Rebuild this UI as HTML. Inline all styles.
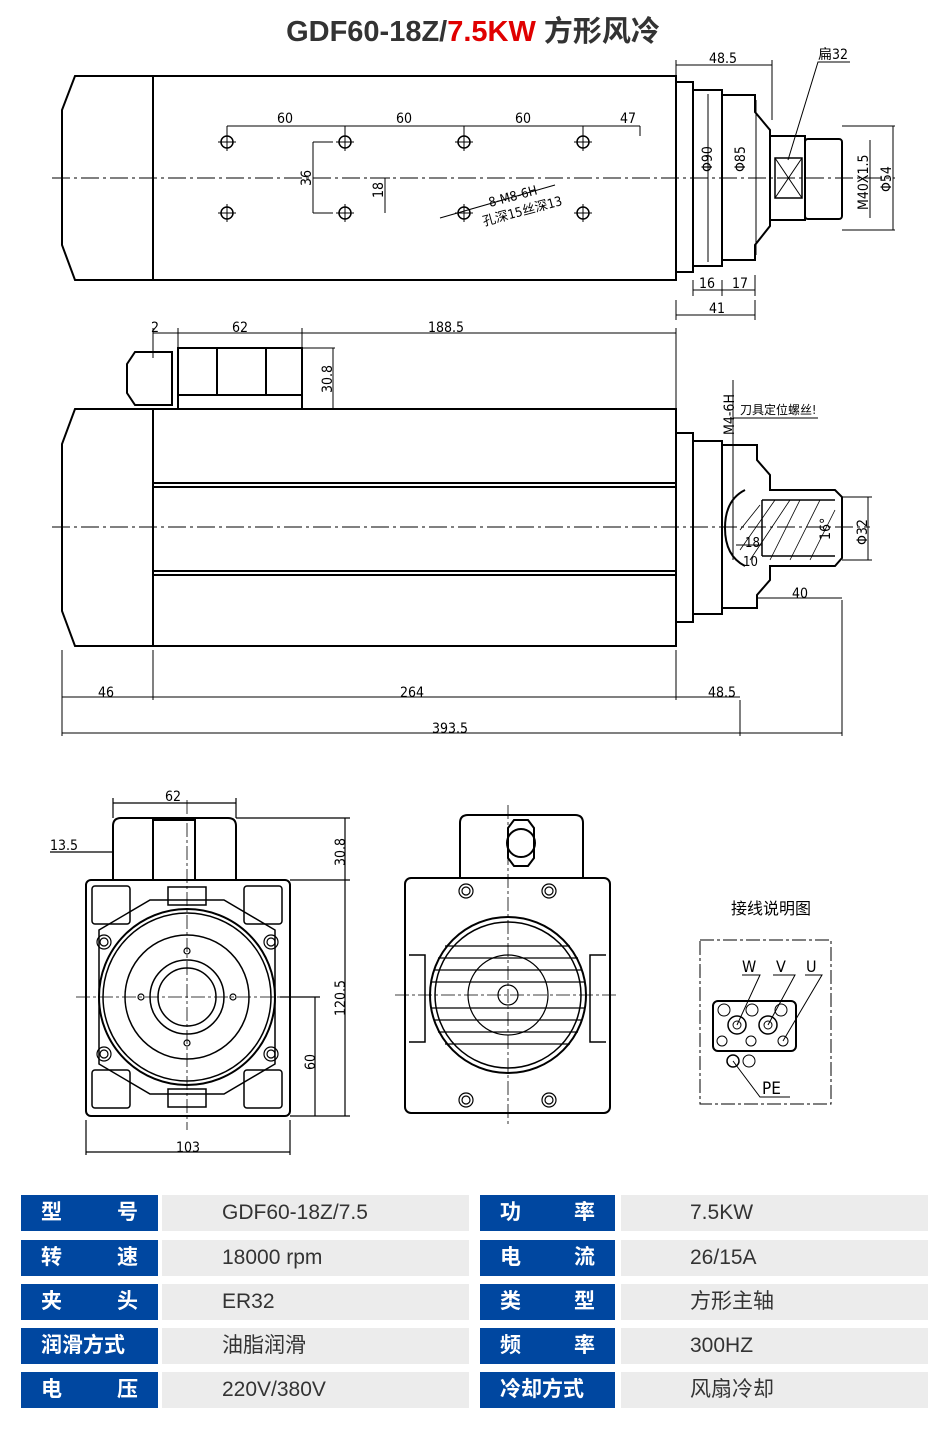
<!DOCTYPE html>
<html><head><meta charset="utf-8">
<style>
html,body{margin:0;padding:0;background:#fff;}
body{width:946px;height:1440px;position:relative;overflow:hidden;font-family:"Liberation Sans","Noto Sans CJK SC",sans-serif;}
svg{position:absolute;left:0;top:0;}
.t{position:absolute;height:36px;line-height:36px;font-size:21px;}
.h{background:#0047a0;color:#fff;font-weight:bold;width:137px;box-sizing:border-box;padding:0 20px;display:flex;justify-content:space-between;}
.v{background:#ececec;color:#333;font-size:21px;}
</style></head><body>
<svg width="946" height="1440" viewBox="0 0 946 1440" font-family="Liberation Sans, Noto Sans CJK SC, sans-serif">
<text x="473" y="41" text-anchor="middle" font-size="29" font-weight="bold" fill="#333">GDF60-18Z/<tspan fill="#e00000">7.5KW</tspan> 方形风冷</text>
<g fill="none" stroke="#000" stroke-width="2">
<path d="M75 76H676V280H75L62 245V110Z"/>
<line x1="153" y1="76" x2="153" y2="280"/>
<rect x="676" y="82" width="17" height="190"/>
<rect x="693" y="90" width="29" height="176"/>
<path d="M722 95H755V112L770 130V226L755 245V260H722Z"/>
<rect x="770" y="136" width="35" height="84"/>
<rect x="805" y="139" width="37" height="80" rx="3"/>
<rect x="775" y="158" width="27" height="40" stroke-width="1.5"/>
<path d="M775 158L802 198M802 158L775 198" stroke-width="1"/>
</g>
<g fill="none" stroke="#000" stroke-width="1">
<line x1="52" y1="178" x2="895" y2="178" stroke-dasharray="18 4 3 4"/>
<g stroke-width="1.5">
<circle cx="227" cy="142" r="6"/><circle cx="345" cy="142" r="6"/><circle cx="464" cy="142" r="6"/><circle cx="583" cy="142" r="6"/>
<circle cx="227" cy="213" r="6"/><circle cx="345" cy="213" r="6"/><circle cx="464" cy="213" r="6"/><circle cx="583" cy="213" r="6"/>
</g>
<path d="M218 142h18M227 133v18M336 142h18M345 133v18M455 142h18M464 133v18M574 142h18M583 133v18M218 213h18M227 204v18M336 213h18M345 204v18M455 213h18M464 204v18M574 213h18M583 204v18"/>
<path d="M227 126H640M227 126v10M345 126v10M464 126v10M583 126v10M640 126v10"/>
<path d="M313 142v71M313 142h20M313 213h20M385 178v35M370 178h20"/>
<path d="M440 218L555 185"/>
<path d="M676 65H772M676 60v20M772 60v60M693 290H755M693 280v16M722 280v16M755 275v21M676 315H755M676 300v20M755 300v20"/>
<path d="M708 94v168M756 100v155M870 140v78M893 126v104M842 126H895M842 230H895"/>
<path d="M788 160L818 62H850"/>
<path d="M153 333H676M153 328v30M178 328v20M302 328v20M676 328v80M302 348H335M302 409H335M333 348v61"/>
</g>
<g fill="none" stroke="#000" stroke-width="2">
<path d="M75 409H676V646H75L62 611V444Z"/>
<line x1="153" y1="409" x2="153" y2="646"/>
<line x1="153" y1="483" x2="676" y2="483"/><line x1="153" y1="487" x2="676" y2="487"/>
<line x1="153" y1="571" x2="676" y2="571"/><line x1="153" y1="575" x2="676" y2="575"/>
<rect x="178" y="348" width="124" height="61"/>
<line x1="217" y1="348" x2="217" y2="395"/><line x1="266" y1="348" x2="266" y2="395"/>
<line x1="178" y1="395" x2="302" y2="395"/>
<path d="M135 352H172V405H135L127 393V364Z"/>
<line x1="172" y1="352" x2="172" y2="405"/>
<rect x="676" y="433" width="17" height="189"/>
<rect x="693" y="441" width="29" height="173"/>
<path d="M722 445H757V460L770 475V490H835L842 497V558L835 566H770V580L757 595V608H722Z"/>
<path d="M762 500H835M762 556H835M762 500V556" stroke-width="1.5"/>
<path d="M745 490Q725 500 725 528Q725 556 745 566"/>
</g>
<g fill="none" stroke="#000" stroke-width="1">
<line x1="52" y1="527" x2="870" y2="527" stroke-dasharray="18 4 3 4"/>
<path d="M733 380V560M733 418H818M62 650V736M153 650V700M676 650V700M740 700V736M842 600V736M62 697H740M62 733H842M757 598H842M868 497V560M842 497H872M842 560H872M736 545H762"/>
<path d="M740 530L760 505M740 550L775 500M750 560L790 500M770 560L800 500M790 560L820 500M810 560L835 510" stroke-width="0.8"/>
</g>
<g fill="none" stroke="#000" stroke-width="2">
<rect x="86" y="880" width="204" height="236" rx="5"/>
<path d="M113 880V826Q113 818 121 818H228Q236 818 236 826V880"/>
<rect x="153" y="820" width="42" height="60"/>
<circle cx="187" cy="997" r="88"/>
<circle cx="187" cy="997" r="84" stroke-width="1.5"/>
<path d="M99 930L150 900H224L275 930V1064L224 1094H150L99 1064Z" stroke-width="1.5"/>
<circle cx="187" cy="997" r="62" stroke-width="1.5"/>
<circle cx="187" cy="997" r="37" stroke-width="1.5"/>
<circle cx="187" cy="997" r="29" stroke-width="1.5"/>
<rect x="168" y="887" width="38" height="18" stroke-width="1.5"/>
<rect x="168" y="1089" width="38" height="18" stroke-width="1.5"/>
<rect x="92" y="886" width="38" height="38" rx="3" stroke-width="1.5"/>
<rect x="244" y="886" width="38" height="38" rx="3" stroke-width="1.5"/>
<rect x="92" y="1070" width="38" height="38" rx="3" stroke-width="1.5"/>
<rect x="244" y="1070" width="38" height="38" rx="3" stroke-width="1.5"/>
<rect x="405" y="878" width="205" height="235" rx="6"/>
<path d="M460 878V823Q460 815 468 815H575Q583 815 583 823V878"/>
<path d="M508 828L514 820H528L534 828V858L528 866H514L508 858Z"/>
<circle cx="521" cy="843" r="14"/>
<circle cx="508" cy="995" r="78"/>
<circle cx="508" cy="995" r="73" stroke-width="1.5"/>
<path d="M409 955H425V1042H409M606 955H590V1042H606" stroke-width="1.5"/>
</g>
<g fill="none" stroke="#000" stroke-width="1.2">
<circle cx="104" cy="942" r="7"/><circle cx="104" cy="942" r="4"/>
<circle cx="271" cy="942" r="7"/><circle cx="271" cy="942" r="4"/>
<circle cx="104" cy="1054" r="7"/><circle cx="104" cy="1054" r="4"/>
<circle cx="271" cy="1054" r="7"/><circle cx="271" cy="1054" r="4"/>
<circle cx="187" cy="951" r="3"/><circle cx="187" cy="1043" r="3"/><circle cx="141" cy="997" r="3"/><circle cx="233" cy="997" r="3"/>
<circle cx="466" cy="891" r="7"/><circle cx="466" cy="891" r="4"/>
<circle cx="549" cy="891" r="7"/><circle cx="549" cy="891" r="4"/>
<circle cx="466" cy="1100" r="7"/><circle cx="466" cy="1100" r="4"/>
<circle cx="549" cy="1100" r="7"/><circle cx="549" cy="1100" r="4"/>
<circle cx="508" cy="995" r="40"/>
<circle cx="508" cy="995" r="10"/>
<path d="M445 946H570M438 958H578M434 970H582M432 982H584M432 1008H584M434 1020H582M438 1032H578M445 1044H570"/>
<path d="M76 997H300M187 800V1130M395 995H618M508 805V1125" stroke-dasharray="14 3 3 3" stroke-width="0.8"/>
<path d="M113 803H236M113 798v20M236 798v20M345 818V1116M290 880H350M236 818H350M290 1116H350M315 997V1116M280 997H320M86 1120V1155M290 1120V1155M86 1152H290M50 852H113"/>
</g>
<g fill="none" stroke="#000" stroke-width="1">
<rect x="700" y="940" width="131" height="164" stroke-dasharray="14 3 3 3"/>
<rect x="713" y="1001" width="83" height="50" rx="5" stroke-width="2"/>
<circle cx="724" cy="1010" r="6"/><circle cx="752" cy="1010" r="6"/><circle cx="781" cy="1010" r="6"/>
<circle cx="737" cy="1025" r="9" stroke-width="1.5"/><circle cx="737" cy="1025" r="4"/>
<circle cx="768" cy="1025" r="9" stroke-width="1.5"/><circle cx="768" cy="1025" r="4"/>
<circle cx="722" cy="1041" r="5"/><circle cx="751" cy="1041" r="5"/><circle cx="783" cy="1041" r="5"/>
<path d="M742 975H760L737 1025M773 975H795L768 1025M805 975H822L783 1041"/>
<circle cx="733" cy="1061" r="6" stroke-width="1.5"/><circle cx="749" cy="1061" r="6"/>
<path d="M733 1061L760 1097H790"/>
</g>
<g font-size="14" fill="#000" font-family="DejaVu Sans Condensed, Liberation Sans, sans-serif">
<text x="277" y="123">60</text><text x="396" y="123">60</text><text x="515" y="123">60</text><text x="620" y="123">47</text>
<text x="709" y="63">48.5</text><text x="818" y="59">扁32</text>
<text transform="translate(311,186) rotate(-90)">36</text>
<text transform="translate(383,198) rotate(-90)">18</text>
<text transform="translate(490,207) rotate(-15)" font-size="13">8-M8-6H</text>
<text transform="translate(484,226) rotate(-15)" font-size="13">孔深15丝深13</text>
<text transform="translate(712,172) rotate(-90)">Φ90</text>
<text transform="translate(745,172) rotate(-90)">Φ85</text>
<text transform="translate(868,210) rotate(-90)">M40X1.5</text>
<text transform="translate(891,192) rotate(-90)">Φ54</text>
<text x="699" y="288">16</text><text x="732" y="288">17</text><text x="709" y="313">41</text>
<text x="151" y="332">2</text><text x="232" y="332">62</text><text x="428" y="332">188.5</text>
<text transform="translate(332,393) rotate(-90)">30.8</text>
<text transform="translate(734,435) rotate(-90)">M4-6H</text>
<text x="740" y="414" font-size="12">刀具定位螺丝!</text>
<text transform="translate(830,540) rotate(-90)">16°</text>
<text transform="translate(867,545) rotate(-90)">Φ32</text>
<text x="745" y="547" font-size="13">18</text><text x="743" y="566" font-size="13">10</text>
<text x="792" y="598">40</text>
<text x="98" y="697">46</text><text x="400" y="697">264</text><text x="708" y="697">48.5</text><text x="432" y="733">393.5</text>
<text x="165" y="801">62</text><text x="50" y="850">13.5</text>
<text transform="translate(345,866) rotate(-90)">30.8</text>
<text transform="translate(345,1016) rotate(-90)">120.5</text>
<text transform="translate(315,1070) rotate(-90)">60</text>
<text x="176" y="1152">103</text>
<text x="731" y="914" font-size="16">接线说明图</text>
<text x="742" y="972" font-size="16">W</text><text x="776" y="972" font-size="16">V</text><text x="806" y="972" font-size="16">U</text>
<text x="762" y="1094" font-size="17">PE</text>
</g>
</svg>
<div class="t h" style="left:21px;top:1195px"><span>型</span><span>号</span></div>
<div class="t v" style="left:162px;top:1195px;width:307px;padding-left:60px;box-sizing:border-box">GDF60-18Z/7.5</div>
<div class="t h" style="left:480px;top:1195px;width:135px"><span>功</span><span>率</span></div>
<div class="t v" style="left:621px;top:1195px;width:307px;padding-left:69px;box-sizing:border-box">7.5KW</div>
<div class="t h" style="left:21px;top:1240px"><span>转</span><span>速</span></div>
<div class="t v" style="left:162px;top:1240px;width:307px;padding-left:60px;box-sizing:border-box">18000 rpm</div>
<div class="t h" style="left:480px;top:1240px;width:135px"><span>电</span><span>流</span></div>
<div class="t v" style="left:621px;top:1240px;width:307px;padding-left:69px;box-sizing:border-box">26/15A</div>
<div class="t h" style="left:21px;top:1284px"><span>夹</span><span>头</span></div>
<div class="t v" style="left:162px;top:1284px;width:307px;padding-left:60px;box-sizing:border-box">ER32</div>
<div class="t h" style="left:480px;top:1284px;width:135px"><span>类</span><span>型</span></div>
<div class="t v" style="left:621px;top:1284px;width:307px;padding-left:69px;box-sizing:border-box">方形主轴</div>
<div class="t h" style="left:21px;top:1328px"><span>润滑方式</span></div>
<div class="t v" style="left:162px;top:1328px;width:307px;padding-left:60px;box-sizing:border-box">油脂润滑</div>
<div class="t h" style="left:480px;top:1328px;width:135px"><span>频</span><span>率</span></div>
<div class="t v" style="left:621px;top:1328px;width:307px;padding-left:69px;box-sizing:border-box">300HZ</div>
<div class="t h" style="left:21px;top:1372px"><span>电</span><span>压</span></div>
<div class="t v" style="left:162px;top:1372px;width:307px;padding-left:60px;box-sizing:border-box">220V/380V</div>
<div class="t h" style="left:480px;top:1372px;width:135px"><span>冷却方式</span></div>
<div class="t v" style="left:621px;top:1372px;width:307px;padding-left:69px;box-sizing:border-box">风扇冷却</div>
</body></html>
